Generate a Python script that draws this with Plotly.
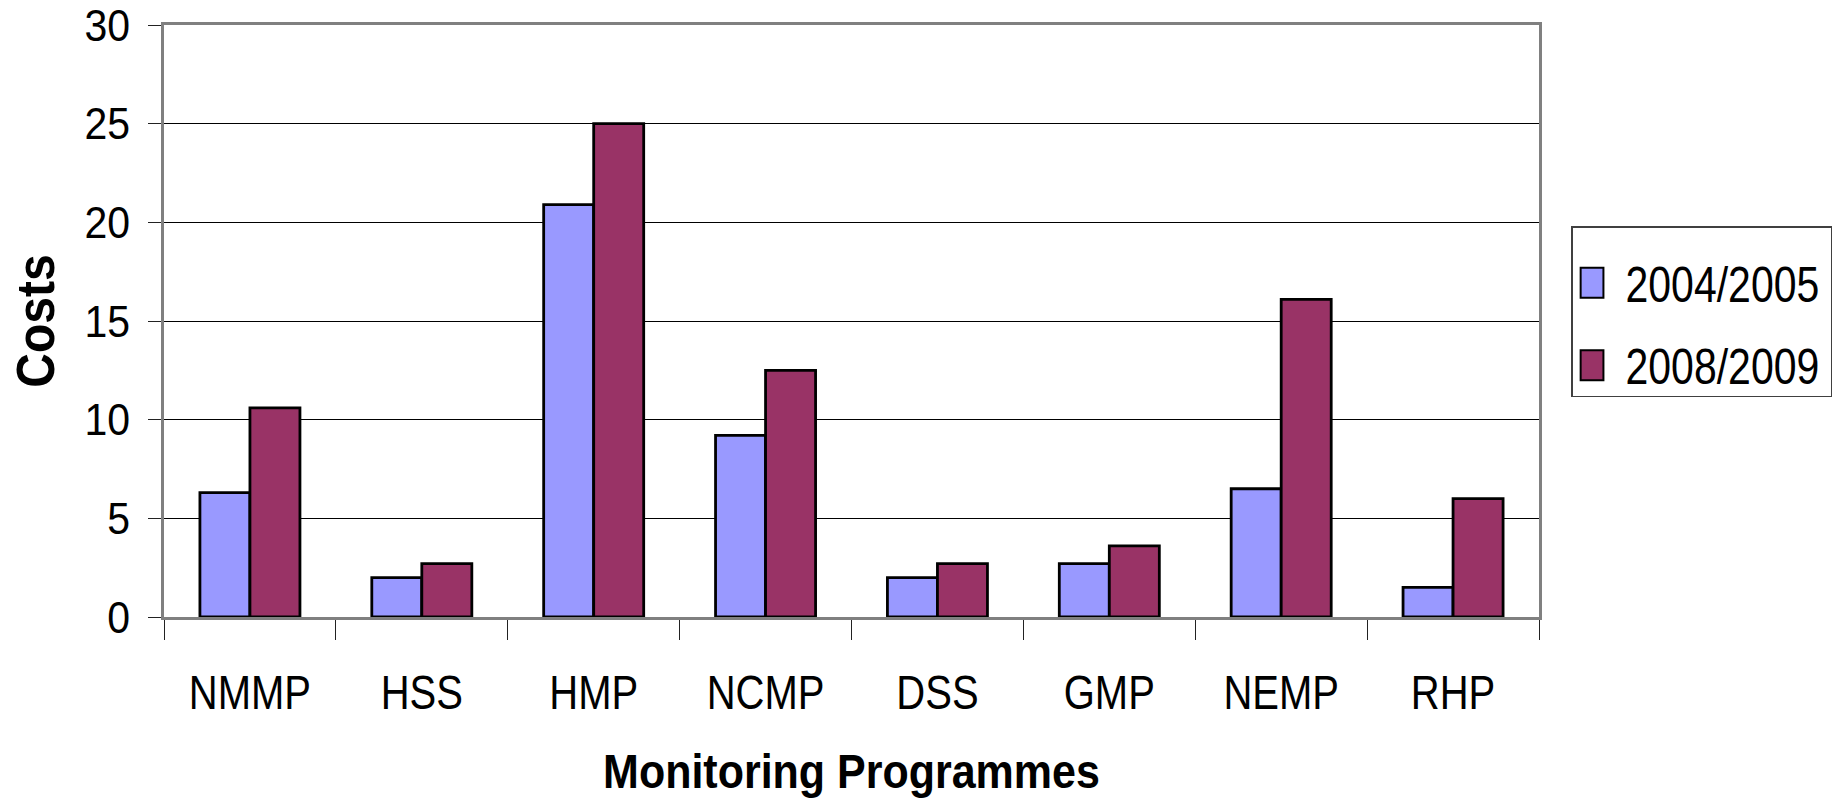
import plotly.graph_objects as go

categories = ["NMMP", "HSS", "HMP", "NCMP", "DSS", "GMP", "NEMP", "RHP"]
costs_2004_2005 = [6.3, 2.0, 20.9, 9.2, 2.0, 2.7, 6.5, 1.5]
costs_2008_2009 = [10.6, 2.7, 25.0, 12.5, 2.7, 3.6, 16.1, 6.0]
series_names = ["2004/2005", "2008/2009"]
series_colors = ["#9999FF", "#993366"]
y_ticks = [0, 5, 10, 15, 20, 25, 30]

FONT = "Liberation Sans, Arial, Helvetica, sans-serif"

fig = go.Figure()
for name, vals, col in zip(series_names, [costs_2004_2005, costs_2008_2009], series_colors):
    fig.add_trace(go.Bar(
        x=categories, y=vals, name=name, legendgroup=name,
        marker=dict(color=col, line=dict(color="black", width=2.8)),
    ))

fig.update_layout(
    width=1846, height=812,
    margin=dict(l=164, r=307, t=25, b=195, autoexpand=False),
    paper_bgcolor="white", plot_bgcolor="white",
    font=dict(family=FONT, color="black", size=40),
    barmode="group", bargap=0.418, bargroupgap=0,
    showlegend=True,
    legend=dict(
        x=1.0233, y=0.623, xanchor="left", yanchor="top",
        bgcolor="white", bordercolor="#404040", borderwidth=1.5,
        font=dict(family=FONT, size=41, color="black"),
        itemsizing="constant", tracegroupgap=26, itemwidth=43,
    ),
)

fig.update_xaxes(
    type="category", automargin=False,
    showline=True, linecolor="#808080", linewidth=2.5, mirror=True,
    ticks="outside", tickson="boundaries", ticklen=20, tickcolor="#222222", tickwidth=1,
    tickfont=dict(family=FONT, size=40, color="black"),
    ticklabelstandoff=38,
    showgrid=False,
    title=dict(text="Monitoring Programmes",
               font=dict(family=FONT, size=43, color="black", weight="bold"), standoff=44),
)
fig.update_yaxes(
    range=[0, 30], tickvals=y_ticks, ticktext=[str(v) for v in y_ticks], automargin=False,
    showline=True, linecolor="#808080", linewidth=2.5, mirror=True,
    ticks="outside", ticklen=13, tickcolor="#222222", tickwidth=1,
    tickfont=dict(family=FONT, size=41, color="black"),
    ticklabelstandoff=10, ticklabeloverflow="allow",
    showgrid=True, gridcolor="black", gridwidth=1,
    zeroline=False,
    title=dict(text="Costs", font=dict(family=FONT, size=48, color="black", weight="bold"), standoff=17),
)

post_js = """
document.body.style.margin = '0';
var gd = document.getElementById('{plot_id}');
function stretch(sel, sy) {
  gd.querySelectorAll(sel).forEach(function(t) {
    var b = t.getBBox();
    var cy = b.y + b.height / 2;
    var tr = t.getAttribute('transform') || '';
    t.setAttribute('transform', tr + ' translate(0,' + cy + ') scale(1,' + sy + ') translate(0,' + (-cy) + ')');
  });
}
stretch('.xtick text', 1.2);
stretch('.ytick text', 1.1);
stretch('text.xtitle', 1.1);
stretch('text.ytitle', 1.1);
stretch('text.legendtext', 1.2);
gd.querySelectorAll('.legend .legendpoints path').forEach(function(p) {
  var t = p.getAttribute('transform') || '';
  p.setAttribute('transform', t + ' translate(-7,0) scale(1.9,2.5)');
  p.style.vectorEffect = 'non-scaling-stroke';
  p.style.strokeWidth = '2px';
  p.style.stroke = 'black';
});
gd.querySelectorAll('.legend rect.bg').forEach(function(r) {
  var y = parseFloat(r.getAttribute('y') || '0');
  var h = parseFloat(r.getAttribute('height'));
  var w = parseFloat(r.getAttribute('width'));
  r.setAttribute('y', y - 22);
  r.setAttribute('height', h + 19);
  r.setAttribute('width', w + 6);
});
"""

fig.write_html("out.html", post_script=post_js, config={"displayModeBar": False})
